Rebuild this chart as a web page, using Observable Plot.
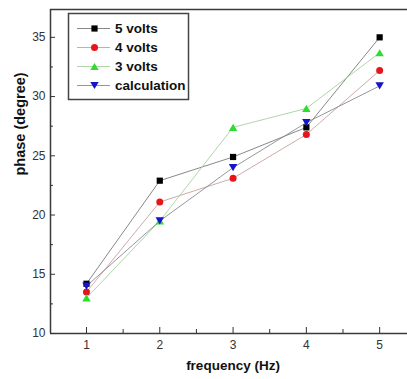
<!DOCTYPE html>
<html>
<head>
<meta charset="utf-8">
<script src="https://cdn.jsdelivr.net/npm/d3@7"></script>
<script src="https://cdn.jsdelivr.net/npm/@observablehq/plot@0.6"></script>
<style>
  html, body { margin: 0; padding: 0; background: #fff; }
  #wrap { position: relative; width: 407px; height: 379px; overflow: hidden; }
  #legend { position: absolute; left: 0; top: 0; }
</style>
</head>
<body>
<div id="wrap"></div>
<script>
// ---- data ----
const frequency = [1, 2, 3, 4, 5];
const volts5 = [14.2, 22.9, 24.9, 27.4, 35.0];
const volts4 = [13.5, 21.1, 23.1, 26.8, 32.2];
const volts3 = [13.0, 19.5, 27.4, 29.0, 33.7];
const calculation = [14.0, 19.5, 24.0, 27.8, 30.9];
const seriesNames = ["5 volts", "4 volts", "3 volts", "calculation"];
const xTicks = [1, 2, 3, 4, 5];
const xMinorTicks = [1.5, 2.5, 3.5, 4.5];
const yTicks = [10, 15, 20, 25, 30, 35];
const yMinorTicks = [12.5, 17.5, 22.5, 27.5, 32.5];

// ---- styles ----
const markerFill = {"5 volts": "#000000", "4 volts": "#e8141a", "3 volts": "#2fdc2f", "calculation": "#1414c8"};
const lineColor = {"5 volts": "#7a7a7a", "4 volts": "#c8a0a0", "3 volts": "#a8d0a0", "calculation": "#8a8a96"};
const triangleDown = {
  draw(ctx, size) {
    const s = Math.sqrt(size);
    const w = 0.68 * s, h = 0.58 * s;
    ctx.moveTo(-w, -h); ctx.lineTo(w, -h); ctx.lineTo(0, h); ctx.closePath();
  }
};
const triangleUp = {
  draw(ctx, size) {
    const s = Math.sqrt(size);
    const w = 0.68 * s, h = 0.58 * s;
    ctx.moveTo(-w, h); ctx.lineTo(w, h); ctx.lineTo(0, -h); ctx.closePath();
  }
};
const symbolOf = {"5 volts": d3.symbolSquare, "4 volts": d3.symbolCircle, "3 volts": triangleUp, "calculation": triangleDown};

const valuesOf = {"5 volts": volts5, "4 volts": volts4, "3 volts": volts3, "calculation": calculation};
const rows = seriesNames.flatMap(name => frequency.map((f, i) => ({series: name, f, v: valuesOf[name][i]})));

const xDomain = [0.509, 5.38];
const yDomain = [10, 37.35];
const font = "'Liberation Sans', Arial, sans-serif";

const chart = Plot.plot({
  width: 407,
  height: 379,
  marginLeft: 50,
  marginRight: 0,
  marginTop: 9,
  marginBottom: 46,
  style: {fontFamily: font, fontSize: "12px", color: "#333", background: "#fff"},
  x: {domain: xDomain},
  y: {domain: yDomain},
  marks: [
    Plot.ruleX([xDomain[0]], {stroke: "#3a3a3a", strokeWidth: 1.5}),
    Plot.ruleY([yDomain[0]], {stroke: "#3a3a3a", strokeWidth: 1.5}),
    Plot.ruleY([yDomain[1]], {stroke: "#3a3a3a", strokeWidth: 1.5}),
    Plot.axisX({ticks: xTicks, tickFormat: d3.format("d"), tickSize: -6, tickPadding: 13, label: null, stroke: "#333", strokeWidth: 1, fill: "#333", fontSize: 12}),
    Plot.axisX({ticks: xMinorTicks, tickSize: -4, tickFormat: () => "", label: null, stroke: "#333", strokeWidth: 1}),
    Plot.axisY({ticks: yTicks, tickFormat: d3.format("d"), tickSize: -5, tickPadding: 10, label: null, stroke: "#333", strokeWidth: 1, fill: "#333", fontSize: 12}),
    Plot.axisY({ticks: yMinorTicks, tickSize: -3, tickFormat: () => "", label: null, stroke: "#333", strokeWidth: 1}),
    ...seriesNames.map(name => Plot.line(rows.filter(d => d.series === name), {x: "f", y: "v", stroke: lineColor[name], strokeWidth: 0.9})),
    ...seriesNames.map(name => Plot.dot(rows.filter(d => d.series === name), {x: "f", y: "v", symbol: () => symbolOf[name], fill: markerFill[name], r: 3.5})),
    Plot.text(["frequency (Hz)"], {frameAnchor: "bottom", dx: 4, dy: 36, fontWeight: "bold", fontSize: 13.5, fill: "#111"}),
    Plot.text(["phase (degree)"], {frameAnchor: "left", rotate: -90, dx: -30, dy: 4, fontWeight: "bold", fontSize: 14.5, fill: "#111"})
  ]
});
document.getElementById("wrap").appendChild(chart);

// ---- legend overlay ----
const leg = d3.select("#wrap").append("svg")
  .attr("id", "legend").attr("width", 407).attr("height", 379)
  .style("font-family", font);
leg.append("rect").attr("x", 68.5).attr("y", 13.5).attr("width", 120).attr("height", 86)
  .attr("fill", "#fff").attr("stroke", "#444").attr("stroke-width", 1.5);
seriesNames.forEach((name, i) => {
  const y = 28.5 + i * 19;
  leg.append("line").attr("x1", 77).attr("x2", 110).attr("y1", y).attr("y2", y)
    .attr("stroke", lineColor[name]).attr("stroke-width", 0.9);
  leg.append("path").attr("transform", `translate(94.5,${y})`)
    .attr("d", d3.symbol(symbolOf[name], 3.5 * 3.5 * Math.PI)())
    .attr("fill", markerFill[name]);
  leg.append("text").attr("x", 115).attr("y", y).attr("dy", "0.36em")
    .attr("font-weight", "bold").attr("font-size", 13.5).attr("fill", "#111")
    .text(name);
});
</script>
</body>
</html>
